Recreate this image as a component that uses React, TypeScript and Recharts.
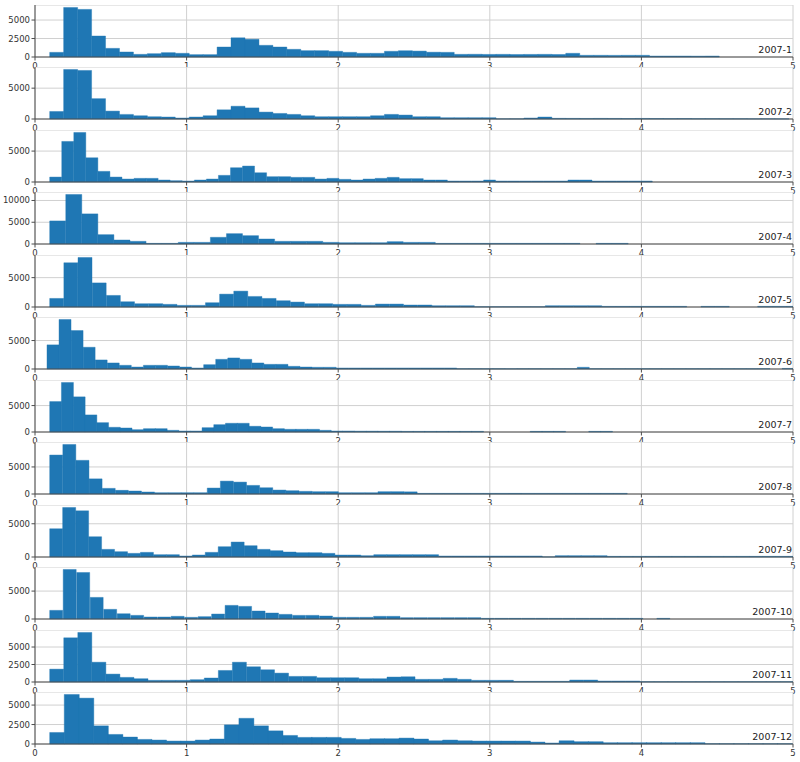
import { BarChart, Bar, XAxis, YAxis, CartesianGrid } from 'recharts';

// one histogram per month, each with its own bins
const months = ['2007-1', '2007-2', '2007-3', '2007-4', '2007-5', '2007-6', '2007-7', '2007-8', '2007-9', '2007-10', '2007-11', '2007-12'];
const binStarts = [0.097, 0.097, 0.097, 0.097, 0.097, 0.079, 0.097, 0.097, 0.097, 0.097, 0.097, 0.097];
const binWidths = [0.092, 0.092, 0.0795, 0.106, 0.0934, 0.0795, 0.0773, 0.0866, 0.0855, 0.089, 0.0927, 0.096];
const yTicks = [
  [0, 2500, 5000], [0, 5000], [0, 5000], [0, 5000, 10000], [0, 5000], [0, 5000],
  [0, 5000], [0, 5000], [0, 5000], [0, 5000], [0, 2500, 5000], [0, 2500, 5000],
];
const xTicks = [0, 1, 2, 3, 4, 5];

const counts2007_1 = [
  630, 6700, 6440, 2840, 1170, 680, 360, 450, 590, 500,
  320, 320, 1350, 2600, 2400, 1580, 1350, 1040, 860, 860,
  770, 630, 500, 500, 770, 850, 800, 650, 630, 360,
  370, 350, 360, 340, 350, 360, 340, 500, 230, 230,
  220, 230, 230, 130, 130, 130, 120, 130,
];
const counts2007_2 = [
  1220, 8030, 7870, 3300, 1280, 745, 530, 370, 320, 160,
  320, 530, 1490, 2070, 1800, 1120, 900, 745, 530, 370,
  370, 370, 370, 530, 745, 640, 370, 370, 210, 210,
  210, 210, 30, 30, 160, 320, 110, 100, 90, 100,
  90, 80, 90, 80, 70, 80, 60, 60, 50, 50,
  40, 40, 30,
];
const counts2007_3 = [
  800, 6560, 8010, 3920, 1720, 800, 480, 590, 590, 320,
  215, 160, 320, 480, 1075, 2310, 2580, 1500, 860, 860,
  750, 750, 480, 590, 430, 320, 480, 590, 750, 540,
  540, 320, 320, 160, 160, 160, 320, 160, 160, 160,
  160, 160, 160, 320, 320, 160, 160, 160, 160, 160,
];
const counts2007_4 = [
  5300, 11380, 6920, 2150, 920, 615, 150, 150, 380, 380,
  1540, 2380, 1920, 1150, 615, 615, 615, 380, 300, 300,
  300, 540, 380, 380, 150, 150, 150, 150, 150, 150,
  150, 150, 150, 0, 150, 150,
];
const counts2007_5 = [
  1460, 7530, 8430, 4100, 1970, 900, 560, 560, 450, 280,
  280, 730, 2190, 2700, 1800, 1460, 1070, 840, 560, 560,
  450, 450, 280, 500, 500, 340, 340, 220, 220, 220,
  50, 50, 50, 50, 50, 220, 220, 220, 220, 110,
  110, 110, 110, 110, 110, 0, 110, 110, 0, 0,
  110, 110, 110,
];
const counts2007_6 = [
  4240, 8700, 6760, 3820, 1590, 1060, 650, 350, 650, 650,
  530, 350, 180, 760, 1700, 1940, 1700, 1060, 820, 820,
  470, 350, 300, 300, 180, 180, 180, 180, 180, 180,
  180, 180, 180, 180, 60, 60, 60, 60, 60, 60,
  60, 60, 60, 60, 300, 60, 60, 60, 60, 60,
  60, 60, 60, 60, 60, 60, 60, 60, 60, 60,
  0, 100,
];
const counts2007_7 = [
  5760, 9370, 6650, 3230, 1770, 890, 760, 440, 630, 630,
  320, 190, 190, 820, 1390, 1650, 1650, 1080, 950, 630,
  510, 510, 510, 320, 190, 190, 160, 160, 150, 150,
  120, 120, 120, 120, 120, 120, 120, 0, 0, 0,
  0, 120, 120, 120, 0, 0, 120, 120,
];
const counts2007_8 = [
  7200, 9150, 6220, 2800, 1040, 670, 550, 370, 240, 240,
  240, 240, 1100, 2380, 2200, 1590, 1160, 730, 610, 490,
  430, 430, 240, 240, 240, 430, 430, 400, 120, 120,
  120, 120, 120, 120, 120, 120, 120, 120, 120, 120,
  120, 120, 120, 120,
];
const counts2007_9 = [
  4250, 7450, 6950, 3050, 1150, 800, 550, 700, 350, 350,
  150, 300, 700, 1550, 2250, 1700, 1150, 950, 750, 650,
  650, 550, 300, 300, 200, 350, 350, 350, 350, 350,
  150, 150, 150, 150, 150, 150, 150, 150, 20, 200,
  200, 200, 200, 100, 100, 100, 100, 100, 100, 100,
  100, 100, 100, 100, 100, 100, 100, 100,
];
const counts2007_10 = [
  1550, 8870, 8330, 3870, 1730, 950, 650, 360, 360, 480,
  300, 420, 890, 2440, 2260, 1430, 1070, 830, 650, 650,
  540, 300, 300, 300, 480, 480, 240, 240, 240, 240,
  240, 240, 120, 120, 120, 120, 120, 120, 120, 120,
  120, 120, 120, 120, 0, 120,
];
const counts2007_11 = [
  1840, 6320, 7080, 2830, 1130, 660, 470, 240, 240, 240,
  330, 570, 1650, 2830, 2170, 1750, 1270, 800, 800, 610,
  610, 610, 470, 470, 710, 750, 380, 380, 520, 380,
  240, 240, 240, 100, 100, 100, 100, 280, 280, 140,
  140, 140, 50, 50, 50, 50, 50, 50, 50, 50,
  50, 50, 50,
];
const counts2007_12 = [
  1480, 6360, 5890, 2330, 1230, 890, 590, 510, 380, 380,
  510, 640, 2460, 3300, 2330, 1690, 1100, 850, 850, 850,
  720, 590, 680, 680, 760, 640, 420, 510, 420, 380,
  380, 380, 380, 250, 130, 420, 300, 300, 170, 170,
  170, 170, 170, 170, 170, 40, 40, 40, 40, 40,
  40,
];

const allCounts = [
  counts2007_1, counts2007_2, counts2007_3, counts2007_4, counts2007_5, counts2007_6,
  counts2007_7, counts2007_8, counts2007_9, counts2007_10, counts2007_11, counts2007_12,
];

const FONT = '"DejaVu Sans", sans-serif';
const BAR = '#1f77b4';
const SPINE = '#4d4d4d';
const GRID = '#d0d0d0';
const tickStyle = { fontSize: 8.5, fill: '#333', fontFamily: FONT };

const PANEL_TOP = 5;
const PANEL_STEP = 62.45;
const PLOT_H = 52;
const AXIS_H = 12;

function Panel({ idx }: { idx: number }) {
  const start = binStarts[idx];
  const w = binWidths[idx];
  const data = allCounts[idx].map((c, i) => ({ x: start + (i + 0.5) * w, count: c }));
  const top = PANEL_TOP + idx * PANEL_STEP;

  return (
    <div style={{ position: 'absolute', left: 0, top, width: 800, height: PLOT_H + AXIS_H }}>
      <BarChart
        width={800}
        height={PLOT_H + AXIS_H}
        data={data}
        margin={{ top: 0, right: 7, left: 0, bottom: 0 }}
        barCategoryGap={0}
        barGap={0}
      >
        <CartesianGrid stroke={GRID} fill="#fff" />
        <XAxis
          dataKey="x"
          type="number"
          domain={[0, 5]}
          ticks={xTicks}
          interval={0}
          allowDataOverflow
          height={AXIS_H}
          tickSize={3.5}
          tickMargin={2}
          tick={tickStyle}
          axisLine={{ stroke: SPINE }}
          tickLine={{ stroke: SPINE }}
        />
        <XAxis
          xAxisId="top"
          orientation="top"
          type="number"
          domain={[0, 5]}
          height={0}
          tick={false}
          tickLine={false}
          axisLine={{ stroke: SPINE }}
        />
        <YAxis
          width={35}
          domain={[0, (m: number) => m * 1.05]}
          ticks={yTicks[idx]}
          interval={0}
          tickSize={3.5}
          tickMargin={1.5}
          tick={tickStyle}
          axisLine={{ stroke: SPINE }}
          tickLine={{ stroke: SPINE }}
        />
        <YAxis
          yAxisId="r"
          orientation="right"
          domain={[0, 1]}
          width={0}
          tick={false}
          tickLine={false}
          axisLine={{ stroke: SPINE }}
        />
        <Bar dataKey="count" fill={BAR} stroke={BAR} strokeWidth={0.4} isAnimationActive={false} />
      </BarChart>
      <div
        style={{
          position: 'absolute',
          right: 8,
          top: 39,
          fontSize: 9.5,
          lineHeight: '11px',
          color: '#222',
          fontFamily: FONT,
          pointerEvents: 'none',
        }}
      >
        {months[idx]}
      </div>
    </div>
  );
}

export default function App() {
  return (
    <div style={{ position: 'absolute', left: 0, top: 0, width: 800, height: 762, background: '#fff', overflow: 'hidden' }}>
      {months.map((m, i) => (
        <Panel key={m} idx={i} />
      ))}
    </div>
  );
}
